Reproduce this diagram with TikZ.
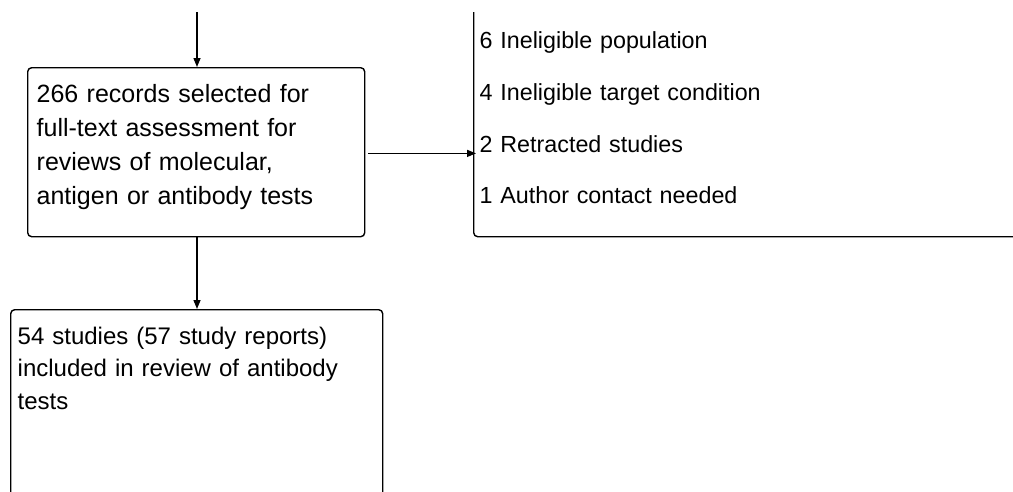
\documentclass[tikz,border=0pt]{standalone}
\usepackage{fontspec}
\setmainfont{Liberation Sans}
\usetikzlibrary{arrows.meta,calc}

\begin{document}
\begin{tikzpicture}
  [x=1pt,y=-1pt,line width=1.4pt,
   every node/.style={inner ysep=0pt,align=left,rounded corners=4pt},
   flowbox/.style={draw,anchor=north west},
   arr/.style={-{Triangle[length=9pt,width=7pt]}}]
  \useasboundingbox (0,0) rectangle (1013,491);
  \clip (0,12) rectangle (1013,491);

  \node[flowbox,inner xsep=9pt,text width=319pt,text height=35pt,text depth=134pt,
        font=\fontsize{25}{33.8}\selectfont] (full) at (27,67)
    {266 records selected for\\full-text assessment for\\reviews of molecular,\\antigen or antibody tests};
  \node[flowbox,inner xsep=6pt,text width=620pt,text height=70pt,text depth=188pt,
        font=\fontsize{23.3}{51.7}\selectfont] (excl) at (473,-22)
    {6 Ineligible population\\4 Ineligible target condition\\2 Retracted studies\\1 Author contact needed};
  \node[flowbox,inner xsep=7pt,text width=358pt,text height=34.5pt,text depth=220pt,
        font=\fontsize{24}{32.5}\selectfont] (incl) at (10,309)
    {54 studies (57 study reports)\\included in review of antibody\\tests};

  \coordinate (in) at (197,12);
  \draw[arr] (in) -- (in |- full.north);
  \draw[arr] (in |- full.south) -- (in |- incl.north);
  \draw[arr] ([xshift=3pt,yshift=-1.2pt]full.east) -- ([xshift=3pt,yshift=-1.2pt]full.east -| excl.west);

\end{tikzpicture}
\end{document}
